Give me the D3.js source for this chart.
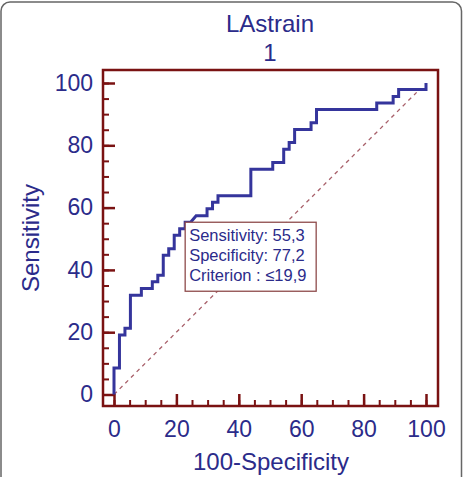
<!DOCTYPE html>
<html>
<head>
<meta charset="utf-8">
<script src="https://cdn.jsdelivr.net/npm/d3@7"></script>
<style>
  html, body { margin: 0; padding: 0; background: #fff; }
  svg { display: block; font-family: "Liberation Sans", Arial, sans-serif; }
</style>
</head>
<body>
<div id="vis"></div>
<script>
// ROC curve points (100-Specificity, Sensitivity)
const fpr = [0, 0, 1.75, 1.75, 3.51, 3.51, 5.26, 5.26, 8.77, 8.77, 12.28, 12.28, 14.04, 14.04,
  15.79, 15.79, 17.54, 17.54, 19.3, 19.3, 21.05, 21.05, 22.81, 22.81, 24.56, 26.32, 29.82, 29.82,
  31.58, 31.58, 33.33, 33.33, 43.86, 43.86, 50.88, 50.88, 54.39, 54.39, 56.14, 56.14, 57.89, 57.89,
  63.16, 63.16, 64.91, 64.91, 84.21, 84.21, 89.47, 89.47, 91.23, 91.23, 100, 100];
const tpr = [0, 8.5, 8.5, 19.1, 19.1, 21.3, 21.3, 31.9, 31.9, 34.0, 34.0, 36.2, 36.2, 38.3,
  38.3, 44.7, 44.7, 46.8, 46.8, 51.1, 51.1, 53.2, 53.2, 55.3, 55.3, 57.4, 57.4, 59.6,
  59.6, 61.7, 61.7, 63.8, 63.8, 72.3, 72.3, 74.5, 74.5, 78.7, 78.7, 80.9, 80.9, 85.1,
  85.1, 87.2, 87.2, 91.5, 91.5, 93.6, 93.6, 95.7, 95.7, 97.9, 97.9, 100];

const majorTicks = [0, 20, 40, 60, 80, 100];
const minorTicks = d3.range(0, 101, 5);
const titleLines = ["LAstrain", "1"];
const criterion = { x: 22.81, y: 55.3 };
const boxLines = ["Sensitivity: 55,3", "Specificity: 77,2", "Criterion : \u226419,9"];

const W = 463, H = 477;
const frame = { left: 103, top: 70, right: 438, bottom: 406 };
const textColor = "#2b2b8a";
const frameColor = "#7a1212";

const svg = d3.select("#vis")
  .append("svg")
  .attr("width", W)
  .attr("height", H);

svg.append("rect")
  .attr("x", 1).attr("y", 2)
  .attr("width", W - 2.5).attr("height", H + 20)
  .attr("rx", 9)
  .attr("fill", "#fff")
  .attr("stroke", "#666")
  .attr("stroke-width", 1.5);

const x = d3.scaleLinear().domain([0, 100]).range([114, 426]);
const y = d3.scaleLinear().domain([0, 100]).range([394.5, 83]);

// diagonal reference line
svg.append("line")
  .attr("x1", x(0)).attr("y1", y(0))
  .attr("x2", x(97)).attr("y2", y(97))
  .attr("stroke", "#a8606a")
  .attr("stroke-width", 1.3)
  .attr("stroke-dasharray", "4,4");

// frame
svg.append("rect")
  .attr("x", frame.left).attr("y", frame.top)
  .attr("width", frame.right - frame.left)
  .attr("height", frame.bottom - frame.top)
  .attr("fill", "none")
  .attr("stroke", frameColor)
  .attr("stroke-width", 2.5);

// minor ticks
svg.append("g")
  .attr("transform", `translate(0, ${frame.bottom})`)
  .call(d3.axisBottom(x).tickValues(minorTicks).tickSize(-6).tickFormat(""))
  .call(g => g.select(".domain").remove())
  .call(g => g.selectAll("line").attr("stroke", frameColor).attr("stroke-width", 2));

svg.append("g")
  .attr("transform", `translate(${frame.left}, 0)`)
  .call(d3.axisLeft(y).tickValues(minorTicks).tickSize(-6).tickFormat(""))
  .call(g => g.select(".domain").remove())
  .call(g => g.selectAll("line").attr("stroke", frameColor).attr("stroke-width", 2));

// major ticks + labels
svg.append("g")
  .attr("transform", `translate(0, ${frame.bottom})`)
  .call(d3.axisBottom(x).tickValues(majorTicks).tickSize(-12).tickPadding(15))
  .call(g => g.select(".domain").remove())
  .call(g => g.selectAll("line").attr("stroke", frameColor).attr("stroke-width", 2.5))
  .call(g => g.selectAll("text")
    .attr("fill", textColor)
    .attr("font-size", "23px")
    .attr("font-family", "Liberation Sans, Arial, sans-serif"));

svg.append("g")
  .attr("transform", `translate(${frame.left}, 0)`)
  .call(d3.axisLeft(y).tickValues(majorTicks).tickSize(-12).tickPadding(10))
  .call(g => g.select(".domain").remove())
  .call(g => g.selectAll("line").attr("stroke", frameColor).attr("stroke-width", 2.5))
  .call(g => g.selectAll("text")
    .attr("fill", textColor)
    .attr("font-size", "23px")
    .attr("font-family", "Liberation Sans, Arial, sans-serif"));

// ROC curve
const pts = fpr.map((v, i) => [v, tpr[i]]);
svg.append("path")
  .datum(pts)
  .attr("fill", "none")
  .attr("stroke", "#35359c")
  .attr("stroke-width", 3)
  .attr("stroke-linejoin", "miter")
  .attr("d", d3.line().x(d => x(d[0])).y(d => y(d[1])));

// criterion box
const bx = x(criterion.x), by = y(criterion.y);
svg.append("rect")
  .attr("x", bx).attr("y", by)
  .attr("width", 131).attr("height", 69)
  .attr("fill", "#fff")
  .attr("stroke", "#8e4b4b")
  .attr("stroke-width", 1.3);

boxLines.forEach((t, i) => {
  svg.append("text")
    .attr("x", bx + 4)
    .attr("y", by + 19 + i * 20)
    .attr("font-size", "16.5px")
    .attr("fill", textColor)
    .text(t);
});

// titles
titleLines.forEach((t, i) => {
  svg.append("text")
    .attr("x", 270)
    .attr("y", 32 + i * 29)
    .attr("text-anchor", "middle")
    .attr("font-size", "24px")
    .attr("fill", textColor)
    .text(t);
});

svg.append("text")
  .attr("x", 271)
  .attr("y", 470)
  .attr("text-anchor", "middle")
  .attr("font-size", "24px")
  .attr("fill", textColor)
  .text("100-Specificity");

svg.append("text")
  .attr("transform", "rotate(-90)")
  .attr("x", -238)
  .attr("y", 39)
  .attr("text-anchor", "middle")
  .attr("font-size", "24px")
  .attr("fill", textColor)
  .text("Sensitivity");
</script>
</body>
</html>
